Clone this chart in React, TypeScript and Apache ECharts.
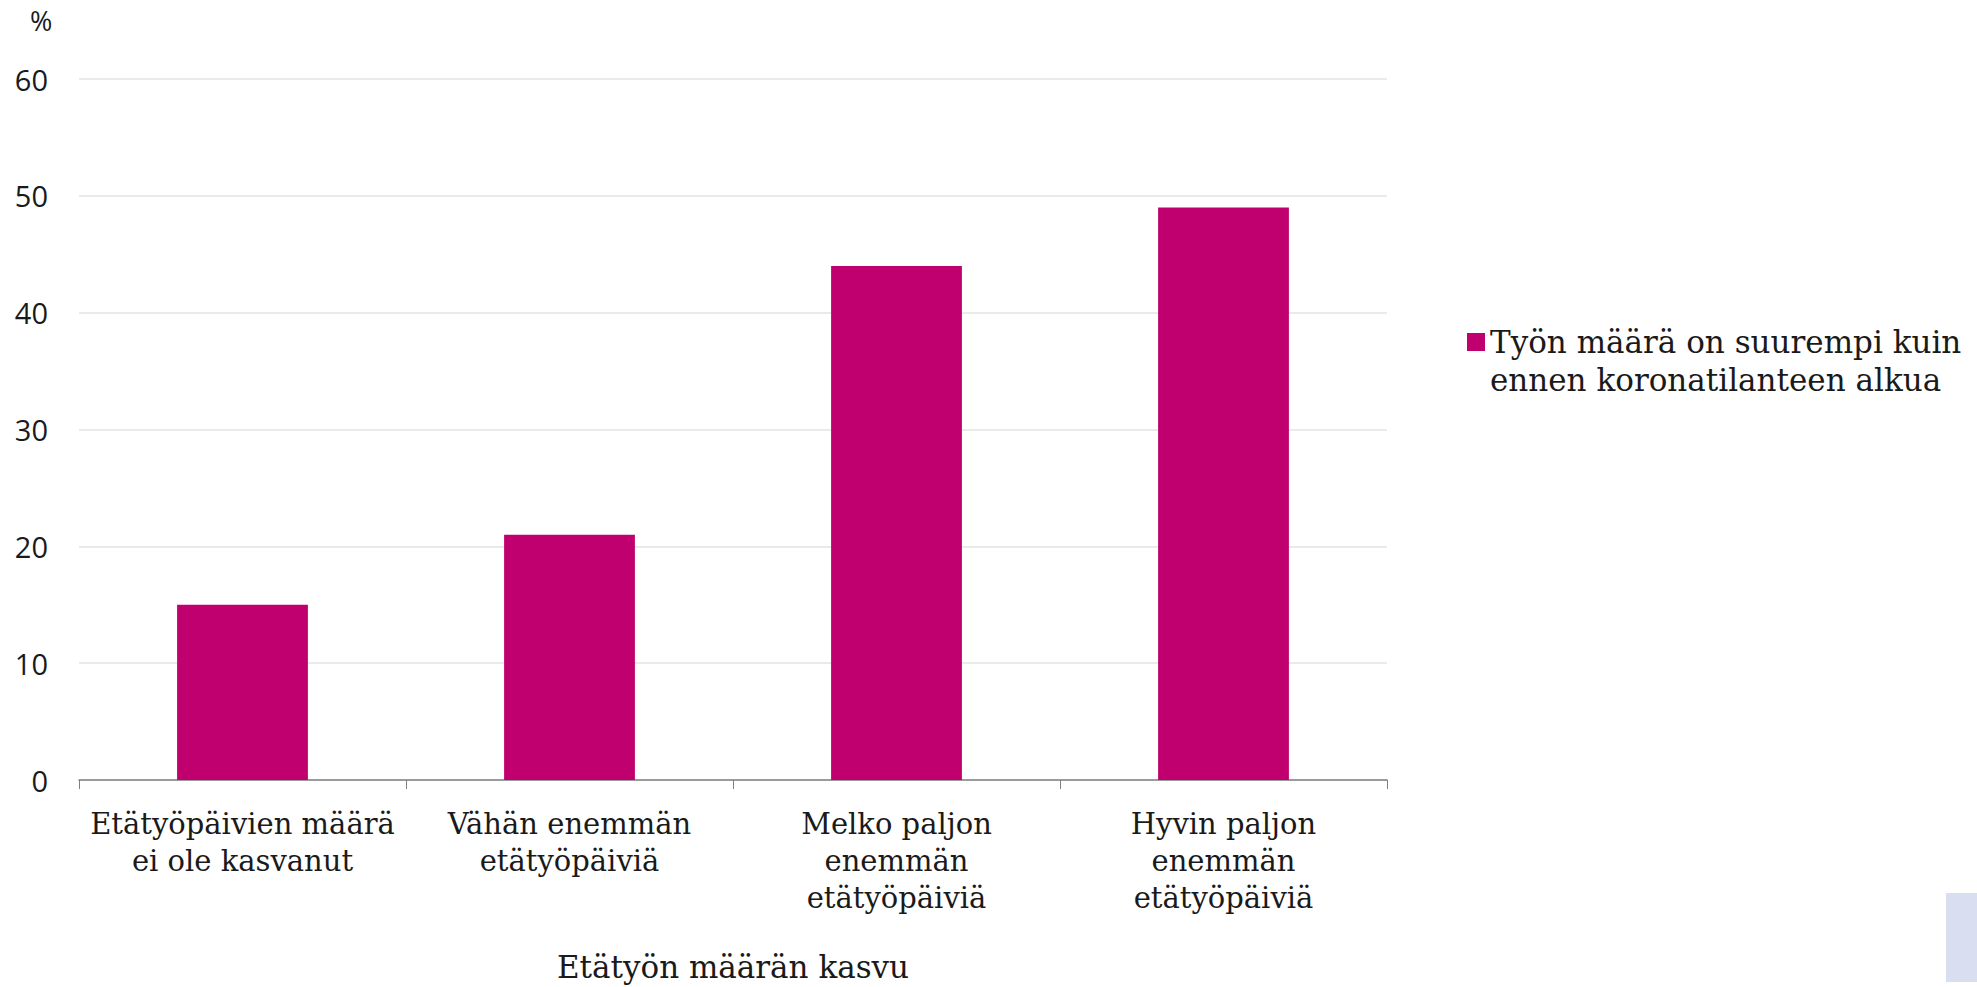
import React, { useEffect, useRef } from "react";
import * as echarts from "echarts";

const categories = [
  "Etätyöpäivien määrä\nei ole kasvanut",
  "Vähän enemmän\netätyöpäiviä",
  "Melko paljon\nenemmän\netätyöpäiviä",
  "Hyvin paljon\nenemmän\netätyöpäiviä",
];
const seriesName = "Työn määrä on suurempi kuin\nennen koronatilanteen alkua";
const values = [15, 21, 44, 49];
const yTicks = { min: 0, max: 60, interval: 10 };
const yUnit = "%";
const xTitle = "Etätyön määrän kasvu";

const SERIF = "'DejaVu Serif', 'Liberation Serif', serif";
const SANS = "'Open Sans', 'Noto Sans', sans-serif";

export default function App() {
  const ref = useRef<HTMLDivElement>(null);
  useEffect(() => {
    if (!ref.current) return;
    const chart = echarts.init(ref.current, null, { renderer: "svg" });
    chart.setOption({
      animation: false,
      backgroundColor: "#ffffff",
      grid: { left: 79, right: 590, top: 79, bottom: 192, containLabel: false },
      legend: {
        data: [seriesName],
        orient: "vertical",
        left: 1462,
        top: 280,
        itemWidth: 18,
        itemHeight: 18,
        icon: "rect",
        formatter: (name: string) => " \n" + name,
        textStyle: {
          fontFamily: SERIF,
          fontSize: 31,
          color: "#1a1a1a",
          lineHeight: 38,
        },
      },
      xAxis: {
        type: "category",
        data: categories,
        axisLine: { show: true, lineStyle: { color: "#808080", width: 1.5 } },
        axisTick: { show: true, length: 9, lineStyle: { color: "#808080" } },
        axisLabel: {
          fontFamily: SERIF,
          fontSize: 29,
          color: "#1a1a1a",
          lineHeight: 37,
          margin: 25,
          interval: 0,
        },
        name: xTitle,
        nameLocation: "middle",
        nameGap: 171,
        nameTextStyle: { fontFamily: SERIF, fontSize: 31, color: "#1a1a1a" },
      },
      yAxis: {
        type: "value",
        min: yTicks.min,
        max: yTicks.max,
        interval: yTicks.interval,
        axisLine: { show: false },
        axisTick: { show: false },
        splitLine: { lineStyle: { color: "#e3e3e3", width: 1.5 } },
        axisLabel: {
          fontFamily: SANS,
          fontSize: 29,
          color: "#1a1a1a",
          margin: 31,
        },
      },
      series: [
        {
          name: seriesName,
          type: "bar",
          data: values,
          barWidth: "40%",
          itemStyle: { color: "#c0006f" },
        },
      ],
      graphic: [
        {
          type: "text",
          left: 30,
          top: 7,
          style: { text: yUnit, fontFamily: SANS, fontSize: 27, fill: "#1a1a1a" },
        },
        {
          type: "rect",
          shape: { x: 1946, y: 893, width: 31, height: 89 },
          style: { fill: "#d9dff0" },
        },
      ],
    });
    return () => chart.dispose();
  }, []);
  return <div ref={ref} style={{ width: 1977, height: 987, position: "absolute", left: 0, top: 0 }} />;
}
